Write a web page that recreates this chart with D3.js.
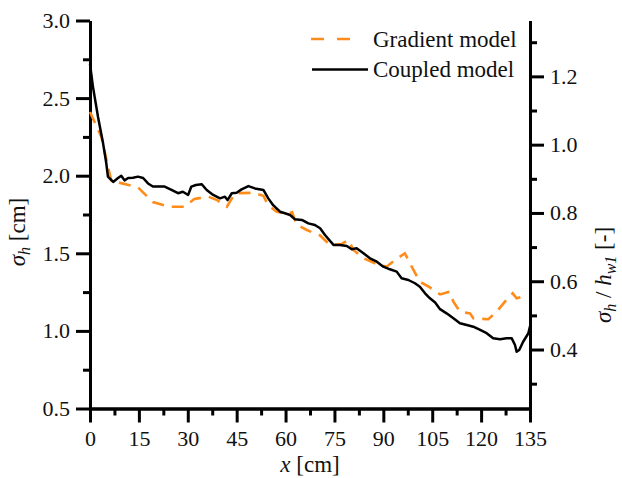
<!DOCTYPE html>
<html><head><meta charset="utf-8">
<script src="https://cdn.jsdelivr.net/npm/d3@7"></script>
<style>
body{margin:0;background:#fff;}
svg text{font-family:"Liberation Serif","Times New Roman",serif !important;fill:#111;}
</style></head>
<body><svg id="c" width="622" height="478"></svg>
<script>
// ---- data ----
const coupledX = [0,0.9,2.45,4,5,5.5,7.1,8.6,9.6,10.6,11.7,13.2,14.7,16.3,17.8,19.3,22.9,25,27,28.5,30.1,31.1,32.5,34.3,35.8,37.8,39.9,41.4,42.2,43.5,45,46.5,48.6,50.6,53.2,54.7,56.2,58.3,59.8,61.4,62.9,65,67,69,70.6,72.1,74.7,76.7,78.8,80.3,81.8,83.9,85.9,88,90,92,94.1,95.6,97.7,99.7,101.2,102.8,104.3,105.9,107.4,109.4,111.5,113.5,115.6,117.6,119.7,121.7,123.7,125.8,127.8,129.4,130.4,130.9,131.7,132.9,134.5,135];
const coupledY = [2.72,2.574,2.38,2.21,2.08,1.994,1.96,1.985,2.0,1.97,1.985,1.987,1.994,1.985,1.95,1.93,1.93,1.908,1.887,1.897,1.876,1.93,1.94,1.945,1.908,1.876,1.854,1.865,1.843,1.887,1.89,1.912,1.933,1.918,1.908,1.854,1.81,1.768,1.758,1.747,1.719,1.715,1.693,1.682,1.661,1.618,1.554,1.554,1.547,1.526,1.532,1.5,1.468,1.446,1.414,1.397,1.382,1.339,1.328,1.307,1.285,1.242,1.21,1.183,1.14,1.113,1.081,1.049,1.038,1.027,1.006,0.985,0.952,0.946,0.952,0.952,0.909,0.866,0.877,0.93,0.985,1.03];
const gradientX = [0,3.5,5.5,6.5,8,14.7,19.3,24.4,29,32,36.3,39,42,44.5,50,53.2,54.7,57.3,60.8,62,63.4,66.5,70.6,73.6,77.2,79.3,80.8,83.9,87.4,91,93.6,96.6,98.7,101.2,104.3,107.4,110.3,111.5,113.5,116.6,117.6,122.2,124.8,127.3,129.7,130.9,132.5];
const gradientY = [2.41,2.25,2.06,1.97,1.96,1.925,1.83,1.80,1.80,1.85,1.865,1.843,1.80,1.887,1.89,1.87,1.81,1.768,1.755,1.765,1.685,1.65,1.615,1.554,1.56,1.586,1.522,1.468,1.436,1.414,1.457,1.50,1.414,1.317,1.28,1.235,1.253,1.188,1.124,1.113,1.081,1.075,1.124,1.188,1.242,1.21,1.22];
const xTicks = [0,15,30,45,60,75,90,105,120,135];
const xMinorTicks = [7.5,22.5,37.5,52.5,67.5,82.5,97.5,112.5,127.5];
const yTicks = [0.5,1.0,1.5,2.0,2.5,3.0];
const yMinorTicks = [0.75,1.25,1.75,2.25,2.75];
const y2Ticks = [0.4,0.6,0.8,1.0,1.2];
const y2MinorTicks = [0.3,0.5,0.7,0.9,1.1,1.3];
const hw1 = 2.2; // right axis = sigma_h / h_w1
const seriesNames = ["Gradient model","Coupled model"];

// ---- layout ----
const svg = d3.select("#c");
const L=90, R=530, T=20.5, B=408.5;
const x = d3.scaleLinear().domain([0,135]).range([L,R]);
const y = d3.scaleLinear().domain([0.5,3.0]).range([B,T]);
const y2 = d3.scaleLinear().domain([0.5/hw1,3.0/hw1]).range([B,T]);
const fs = 22;
const SERIF = "'Liberation Serif', 'Times New Roman', serif";

function styleAxis(g){
  g.attr("font-family",SERIF);
  g.selectAll("path.domain").attr("stroke","#000").attr("stroke-width",3);
  g.selectAll(".tick line").attr("stroke","#000").attr("stroke-width",3);
  g.selectAll(".tick text").style("font-size",fs+"px").style("font-family",SERIF).attr("fill","#111");
}
// minor ticks
svg.append("g").attr("transform",`translate(0,${B})`)
  .call(d3.axisBottom(x).tickValues(xMinorTicks).tickSize(7).tickSizeOuter(0).tickFormat(""))
  .call(styleAxis);
svg.append("g").attr("transform",`translate(${L},0)`)
  .call(d3.axisLeft(y).tickValues(yMinorTicks).tickSize(7).tickSizeOuter(0).tickFormat(""))
  .call(styleAxis);
svg.append("g").attr("transform",`translate(${R},0)`)
  .call(d3.axisRight(y2).tickValues(y2MinorTicks).tickSize(7).tickSizeOuter(0).tickFormat(""))
  .call(styleAxis);
// major
svg.append("g").attr("transform",`translate(0,${B})`)
  .call(d3.axisBottom(x).tickValues(xTicks).tickSize(14).tickSizeOuter(0).tickPadding(8).tickFormat(d3.format("d")))
  .call(styleAxis);
svg.append("g").attr("transform",`translate(${L},0)`)
  .call(d3.axisLeft(y).tickValues(yTicks).tickSize(14).tickSizeOuter(0).tickPadding(6).tickFormat(d3.format(".1f")))
  .call(styleAxis);
svg.append("g").attr("transform",`translate(${R},0)`)
  .call(d3.axisRight(y2).tickValues(y2Ticks).tickSize(14).tickSizeOuter(0).tickPadding(6).tickFormat(d3.format(".1f")))
  .call(styleAxis);

// lines
const gradient = gradientX.map((d,i)=>[d,gradientY[i]]);
const coupled = coupledX.map((d,i)=>[d,coupledY[i]]);
const line = d3.line().x(d=>x(d[0])).y(d=>y(d[1]));
svg.append("path").datum(gradient).attr("d",line).attr("fill","none")
  .attr("stroke","#ff8c1a").attr("stroke-width",2.6).attr("stroke-dasharray","12,8");
svg.append("path").datum(coupled).attr("d",line).attr("fill","none")
  .attr("stroke","#000").attr("stroke-width",2.5).attr("stroke-linejoin","round");

// legend
const lg = svg.append("g");
lg.append("line").attr("x1",311).attr("x2",353).attr("y1",39).attr("y2",39)
  .attr("stroke","#ff8c1a").attr("stroke-width",2.6).attr("stroke-dasharray","13,13");
lg.append("text").attr("x",373).attr("y",47).style("font-size","23px").text(seriesNames[0]);
lg.append("line").attr("x1",312).attr("x2",368).attr("y1",69.5).attr("y2",69.5)
  .attr("stroke","#000").attr("stroke-width",2.5);
lg.append("text").attr("x",373).attr("y",77).style("font-size","23px").text(seriesNames[1]);

// axis titles
const xt = svg.append("text").attr("x",310).attr("y",472).attr("text-anchor","middle").style("font-size","23px");
xt.append("tspan").attr("font-style","italic").text("x");
xt.append("tspan").text(" [cm]");

const yt = svg.append("text").attr("transform","translate(25,232) rotate(-90)").attr("text-anchor","middle").style("font-size","23px");
yt.append("tspan").attr("font-style","italic").text("σ");
yt.append("tspan").attr("font-style","italic").style("font-size","16px").attr("dy",5).text("h");
yt.append("tspan").attr("dy",-5).text(" [cm]");

const y2t = svg.append("text").attr("transform","translate(611,275) rotate(-90)").attr("text-anchor","middle").style("font-size","23px");
y2t.append("tspan").attr("font-style","italic").text("σ");
y2t.append("tspan").attr("font-style","italic").style("font-size","16px").attr("dy",5).text("h");
y2t.append("tspan").attr("dy",-5).text(" / ");
y2t.append("tspan").attr("font-style","italic").text("h");
y2t.append("tspan").attr("font-style","italic").style("font-size","16px").attr("dy",5).text("w1");
y2t.append("tspan").attr("dy",-5).text(" [-]");
</script></body></html>
